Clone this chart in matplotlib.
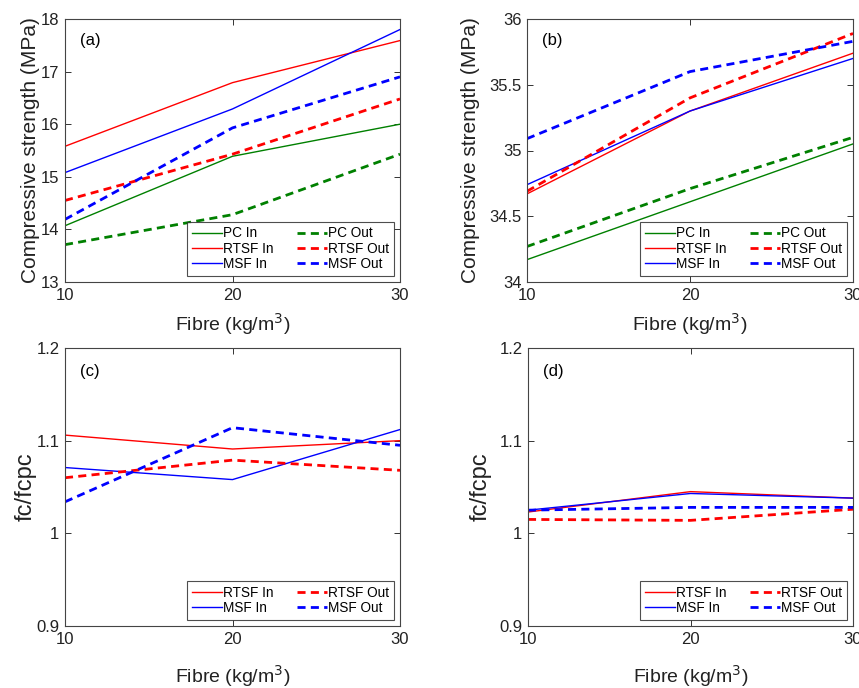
import matplotlib.pyplot as plt

plt.rcParams['font.family'] = ['Liberation Sans', 'DejaVu Sans']

fibre = [10, 20, 30]

# (a) compressive strength, first mix
pc_in_a = [14.07, 15.39, 16.0]
pc_out_a = [13.71, 14.28, 15.43]
rtsf_in_a = [15.58, 16.79, 17.59]
rtsf_out_a = [14.55, 15.43, 16.48]
msf_in_a = [15.08, 16.29, 17.8]
msf_out_a = [14.19, 15.93, 16.9]

# (b) compressive strength, second mix
pc_in_b = [34.17, 34.61, 35.05]
pc_out_b = [34.27, 34.71, 35.1]
rtsf_in_b = [34.67, 35.3, 35.74]
rtsf_out_b = [34.69, 35.4, 35.89]
msf_in_b = [34.74, 35.3, 35.7]
msf_out_b = [35.09, 35.6, 35.83]

# (c) and (d) ratio fc/fcpc
rtsf_in_c = [1.106, 1.091, 1.1]
rtsf_out_c = [1.06, 1.079, 1.068]
msf_in_c = [1.071, 1.058, 1.112]
msf_out_c = [1.034, 1.114, 1.095]

rtsf_in_d = [1.023, 1.045, 1.038]
rtsf_out_d = [1.015, 1.014, 1.026]
msf_in_d = [1.025, 1.043, 1.038]
msf_out_d = [1.025, 1.028, 1.028]

fig = plt.figure(figsize=(8.59, 6.88), dpi=100)
W, H = 859, 688
DASH = (2.9, 1.9)


def make_ax(x0, x1, y0, y1):
    return fig.add_axes([x0 / W, 1 - y1 / H, (x1 - x0) / W, (y1 - y0) / H])


def estilo(ax, ylim, yticks, yticklabels, ylabel, ysize, ylabx, tag, xlabelpad):
    ax.set_xlim(10, 30)
    ax.set_ylim(*ylim)
    ax.set_xticks([10, 20, 30])
    ax.set_yticks(yticks)
    ax.set_yticklabels(yticklabels)
    ax.tick_params(direction='in', top=True, right=True, labelsize=12, length=4, width=0.7,
                   colors='#333333', pad=4)
    ax.tick_params(labelcolor='#222222')
    for s in ax.spines.values():
        s.set_color('#444444')
        s.set_linewidth(0.8)
    ax.set_ylabel(ylabel, fontsize=ysize, color='#222222')
    ax.yaxis.set_label_coords(ylabx, 0.5)
    ax.set_xlabel('Fibre (kg/m$^3$)', fontsize=14, color='#222222', labelpad=xlabelpad)
    ax.text(0.045, 0.9, tag, transform=ax.transAxes, fontsize=12)
    leg = ax.legend(loc='lower right', ncol=2, fontsize=9.8, frameon=True, fancybox=False,
                    handlelength=2.2, handletextpad=0.1, columnspacing=1.7, labelspacing=0.1,
                    borderpad=0.35, borderaxespad=0.45)
    leg.get_frame().set_edgecolor('#222222')
    leg.get_frame().set_linewidth(0.8)


# (a)
ax = make_ax(65, 400, 19, 282)
ax.plot(fibre, pc_in_a, color='green', lw=1, label='PC In')
ax.plot(fibre, rtsf_in_a, color='red', lw=1, label='RTSF In')
ax.plot(fibre, msf_in_a, color='blue', lw=1, label='MSF In')
ax.plot(fibre, pc_out_a, color='green', lw=2, ls='--', dashes=DASH, label='PC Out')
ax.plot(fibre, rtsf_out_a, color='red', lw=2, ls='--', dashes=DASH, label='RTSF Out')
ax.plot(fibre, msf_out_a, color='blue', lw=2, ls='--', dashes=DASH, label='MSF Out')
estilo(ax, (13, 18), [13, 14, 15, 16, 17, 18], ['13', '14', '15', '16', '17', '18'],
       'Compressive strength (MPa)', 15, -0.075, '(a)', 6)

# (b)
ax = make_ax(527, 853, 19, 282)
ax.plot(fibre, pc_in_b, color='green', lw=1, label='PC In')
ax.plot(fibre, rtsf_in_b, color='red', lw=1, label='RTSF In')
ax.plot(fibre, msf_in_b, color='blue', lw=1, label='MSF In')
ax.plot(fibre, pc_out_b, color='green', lw=2, ls='--', dashes=DASH, label='PC Out')
ax.plot(fibre, rtsf_out_b, color='red', lw=2, ls='--', dashes=DASH, label='RTSF Out')
ax.plot(fibre, msf_out_b, color='blue', lw=2, ls='--', dashes=DASH, label='MSF Out')
estilo(ax, (34, 36), [34, 34.5, 35, 35.5, 36], ['34', '34.5', '35', '35.5', '36'],
       'Compressive strength (MPa)', 15, -0.144, '(b)', 6)

# (c)
ax = make_ax(65, 400, 348, 626)
ax.plot(fibre, rtsf_in_c, color='red', lw=1, label='RTSF In')
ax.plot(fibre, msf_in_c, color='blue', lw=1, label='MSF In')
ax.plot(fibre, rtsf_out_c, color='red', lw=2, ls='--', dashes=DASH, label='RTSF Out')
ax.plot(fibre, msf_out_c, color='blue', lw=2, ls='--', dashes=DASH, label='MSF Out')
estilo(ax, (0.9, 1.2), [0.9, 1.0, 1.1, 1.2], ['0.9', '1', '1.1', '1.2'],
       'fc/fcpc', 17, -0.084, '(c)', 12)

# (d)
ax = make_ax(528, 853, 348, 626)
ax.plot(fibre, rtsf_in_d, color='red', lw=1, label='RTSF In')
ax.plot(fibre, msf_in_d, color='blue', lw=1, label='MSF In')
ax.plot(fibre, rtsf_out_d, color='red', lw=2, ls='--', dashes=DASH, label='RTSF Out')
ax.plot(fibre, msf_out_d, color='blue', lw=2, ls='--', dashes=DASH, label='MSF Out')
estilo(ax, (0.9, 1.2), [0.9, 1.0, 1.1, 1.2], ['0.9', '1', '1.1', '1.2'],
       'fc/fcpc', 17, -0.111, '(d)', 12)

plt.savefig('out.png', dpi=100)
